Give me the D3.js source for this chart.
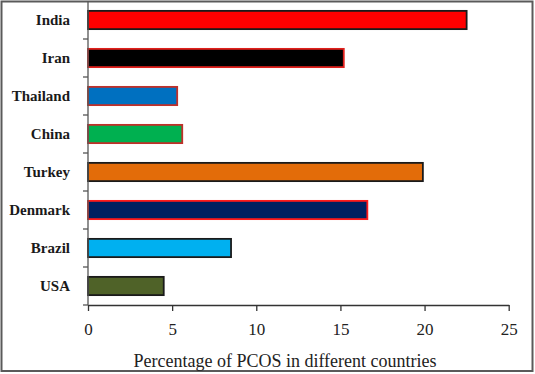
<!DOCTYPE html>
<html>
<head>
<meta charset="utf-8">
<script src="https://cdn.jsdelivr.net/npm/d3@7"></script>
<style>
    body { margin: 0; background: #fff; }
    svg { display: block; }
</style>
</head>
<body>
<div id="chart"></div>
<script>
var countries = ['India', 'Iran', 'Thailand', 'China', 'Turkey', 'Denmark', 'Brazil', 'USA'];
var values = [22.5, 15.2, 5.3, 5.6, 19.9, 16.6, 8.5, 4.5];
var fills = ['#ff0000', '#000000', '#0070c0', '#00b050', '#e36c09', '#002060', '#00b0f0', '#4f6228'];
var strokes = ['#1a1a1a', '#e0201c', '#c0302a', '#c0302a', '#1a1a1a', '#ff1a1a', '#1a1a1a', '#1a1a1a'];
var xTicks = [0, 5, 10, 15, 20, 25];
var xTitle = 'Percentage of PCOS in different countries';

(function () {
    var W = 535, H = 374;
    // plot area edges (note: "top" is reserved on window, keep these local)
    var plotL = 88, plotR = 508.7, plotT = 1, plotB = 305;
    var serif = '"Liberation Serif", "Times New Roman", serif';

    var svg = d3.select('#chart').append('svg')
        .attr('width', W)
        .attr('height', H);

    svg.append('rect')
        .attr('x', 1.5).attr('y', 1.5)
        .attr('width', 531).attr('height', 369.5)
        .attr('fill', '#fff')
        .attr('stroke', '#5a5a5a')
        .attr('stroke-width', 2);

    var x = d3.scaleLinear().domain([0, 25]).range([plotL, plotR]);
    var y = d3.scaleBand().domain(countries).range([plotT, plotB]).paddingInner(0.52).paddingOuter(0.26);

    var data = countries.map(function (c, i) {
        return { name: c, value: values[i], fill: fills[i], stroke: strokes[i] };
    });

    // bars
    svg.selectAll('rect.bar')
        .data(data).enter()
        .append('rect')
        .attr('class', 'bar')
        .attr('x', x(0))
        .attr('y', function (d) { return y(d.name); })
        .attr('width', function (d) { return x(d.value) - x(0); })
        .attr('height', y.bandwidth())
        .attr('fill', function (d) { return d.fill; })
        .attr('stroke', function (d) { return d.stroke; })
        .attr('stroke-width', 1.8);

    // x axis
    var xAxis = svg.append('g')
        .attr('transform', 'translate(0,' + plotB + ')')
        .call(d3.axisBottom(x).tickValues(xTicks).tickSize(6).tickPadding(12).tickSizeOuter(0));
    xAxis.select('.domain').attr('stroke', '#333').attr('stroke-width', 1.3);
    xAxis.selectAll('.tick line').attr('stroke', '#333').attr('stroke-width', 1.3);
    xAxis.selectAll('.tick text')
        .attr('fill', '#222')
        .style('font-family', serif)
        .style('font-size', '17px');

    // y axis: tick marks on band boundaries
    var yAxis = svg.append('g');
    yAxis.append('line')
        .attr('x1', plotL).attr('x2', plotL)
        .attr('y1', plotT).attr('y2', plotB)
        .attr('stroke', '#555').attr('stroke-width', 1.3);
    var step = y.step();
    yAxis.selectAll('line.yt')
        .data(d3.range(countries.length))
        .enter().append('line')
        .attr('class', 'yt')
        .attr('x1', plotL - 5).attr('x2', plotL)
        .attr('y1', function (i) { return plotT + step * (i + 1); })
        .attr('y2', function (i) { return plotT + step * (i + 1); })
        .attr('stroke', '#555').attr('stroke-width', 1.3);

    svg.selectAll('text.cat')
        .data(data).enter()
        .append('text')
        .attr('class', 'cat')
        .attr('x', 70)
        .attr('y', function (d) { return y(d.name) + y.bandwidth() / 2 + 5; })
        .attr('text-anchor', 'end')
        .attr('fill', '#1a1a1a')
        .style('font-family', serif)
        .style('font-weight', 'bold')
        .style('font-size', '15px')
        .text(function (d) { return d.name; });

    svg.append('text')
        .attr('x', 285)
        .attr('y', 367)
        .attr('text-anchor', 'middle')
        .attr('fill', '#222')
        .style('font-family', serif)
        .style('font-size', '18px')
        .text(xTitle);
})();
</script>
</body>
</html>
